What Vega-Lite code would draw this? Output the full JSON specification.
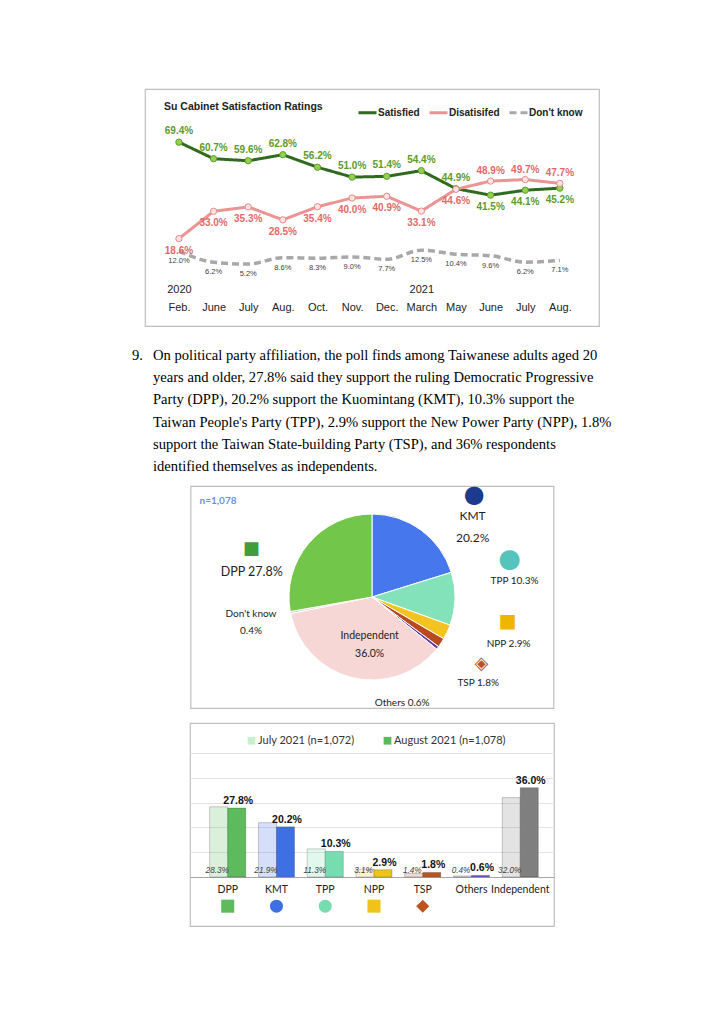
{
  "$schema": "https://vega.github.io/schema/vega-lite/v6.json",
  "background": "white",
  "padding": {"left": 132, "top": 88, "right": 0, "bottom": 0},
  "bounds": "flush",
  "center": true,
  "spacing": 15,
  "config": {"view": {"stroke": "#bfbfbf"}, "font": "Liberation Sans"},
  "resolve": {
    "scale": {"color": "independent", "fill": "independent", "stroke": "independent", "strokeDash": "independent", "fillOpacity": "independent", "shape": "independent", "theta": "independent"},
    "legend": {"color": "independent", "fill": "independent", "stroke": "independent", "strokeDash": "independent", "fillOpacity": "independent", "shape": "independent"}
  },
  "vconcat": [
    {
      "width": 454,
      "height": 237,
      "view": {"stroke": "#bfbfbf", "strokeWidth": 1.2},
      "title": {"text": "Su Cabinet Satisfaction Ratings", "anchor": "start", "frame": "group", "offset": -28, "baseline": "middle", "dx": 19, "fontSize": 10.5, "fontWeight": "bold", "color": "#222222", "font": "Liberation Sans"},
      "data": {"values": [
        {"i": 0, "period": "2020 Feb.", "series": "Satisfied", "value": 0.694},
        {"i": 1, "period": "2020 June", "series": "Satisfied", "value": 0.607},
        {"i": 2, "period": "2020 July", "series": "Satisfied", "value": 0.596},
        {"i": 3, "period": "2020 Aug.", "series": "Satisfied", "value": 0.628},
        {"i": 4, "period": "2020 Oct.", "series": "Satisfied", "value": 0.562},
        {"i": 5, "period": "2020 Nov.", "series": "Satisfied", "value": 0.510},
        {"i": 6, "period": "2020 Dec.", "series": "Satisfied", "value": 0.514},
        {"i": 7, "period": "2021 March", "series": "Satisfied", "value": 0.544},
        {"i": 8, "period": "2021 May", "series": "Satisfied", "value": 0.449},
        {"i": 9, "period": "2021 June", "series": "Satisfied", "value": 0.415},
        {"i": 10, "period": "2021 July", "series": "Satisfied", "value": 0.441},
        {"i": 11, "period": "2021 Aug.", "series": "Satisfied", "value": 0.452},
        {"i": 0, "period": "2020 Feb.", "series": "Disatisifed", "value": 0.186},
        {"i": 1, "period": "2020 June", "series": "Disatisifed", "value": 0.330},
        {"i": 2, "period": "2020 July", "series": "Disatisifed", "value": 0.353},
        {"i": 3, "period": "2020 Aug.", "series": "Disatisifed", "value": 0.285},
        {"i": 4, "period": "2020 Oct.", "series": "Disatisifed", "value": 0.354},
        {"i": 5, "period": "2020 Nov.", "series": "Disatisifed", "value": 0.400},
        {"i": 6, "period": "2020 Dec.", "series": "Disatisifed", "value": 0.409},
        {"i": 7, "period": "2021 March", "series": "Disatisifed", "value": 0.331},
        {"i": 8, "period": "2021 May", "series": "Disatisifed", "value": 0.446},
        {"i": 9, "period": "2021 June", "series": "Disatisifed", "value": 0.489},
        {"i": 10, "period": "2021 July", "series": "Disatisifed", "value": 0.497},
        {"i": 11, "period": "2021 Aug.", "series": "Disatisifed", "value": 0.477},
        {"i": 0, "period": "2020 Feb.", "series": "Don't know", "value": 0.120},
        {"i": 1, "period": "2020 June", "series": "Don't know", "value": 0.062},
        {"i": 2, "period": "2020 July", "series": "Don't know", "value": 0.052},
        {"i": 3, "period": "2020 Aug.", "series": "Don't know", "value": 0.086},
        {"i": 4, "period": "2020 Oct.", "series": "Don't know", "value": 0.083},
        {"i": 5, "period": "2020 Nov.", "series": "Don't know", "value": 0.090},
        {"i": 6, "period": "2020 Dec.", "series": "Don't know", "value": 0.077},
        {"i": 7, "period": "2021 March", "series": "Don't know", "value": 0.125},
        {"i": 8, "period": "2021 May", "series": "Don't know", "value": 0.104},
        {"i": 9, "period": "2021 June", "series": "Don't know", "value": 0.096},
        {"i": 10, "period": "2021 July", "series": "Don't know", "value": 0.062},
        {"i": 11, "period": "2021 Aug.", "series": "Don't know", "value": 0.071}
      ]},
      "encoding": {
        "x": {"field": "i", "type": "quantitative", "scale": {"domain": [-0.98, 12.13], "nice": false, "zero": false},
          "axis": {"values": [0, 1, 2, 3, 4, 5, 6, 7, 8, 9, 10, 11],
            "labelExpr": "[['2020','Feb.'],['','June'],['','July'],['','Aug.'],['','Oct.'],['','Nov.'],['','Dec.'],['2021','March'],['','May'],['','June'],['','July'],['','Aug.']][datum.value]",
            "orient": "bottom", "offset": -52, "domain": false, "ticks": false, "grid": false, "title": null,
            "labelFont": "Liberation Sans", "labelFontSize": 11, "labelColor": "#222222", "labelPadding": 9,
            "labelLineHeight": 18, "labelOverlap": false, "labelFlush": false, "labelBaseline": "top"}},
        "y": {"field": "value", "type": "quantitative", "scale": {"domain": [-0.274, 0.974], "nice": false, "zero": false}, "axis": null}
      },
      "layer": [
        {
          "data": {"values": [{"g": 0.2}, {"g": 0.4}, {"g": 0.6}]},
          "mark": {"type": "rule", "color": "#e8e8e8", "strokeWidth": 1},
          "encoding": {"x": {"datum": -0.5, "type": "quantitative"}, "x2": {"datum": 12.07}, "y": {"field": "g", "type": "quantitative"}}
        },
        {
          "data": {"values": [{"box": "plot"}]},
          "mark": {"type": "rect", "fill": "transparent", "stroke": "#d4d4d4", "strokeWidth": 1},
          "encoding": {"x": {"datum": -0.5, "type": "quantitative"}, "x2": {"datum": 12.07}, "y": {"datum": 0, "type": "quantitative"}, "y2": {"datum": 0.8}}
        },
        {
          "transform": [{"filter": {"field": "series", "equal": "Don't know"}}],
          "mark": {"type": "line", "interpolate": "monotone", "strokeWidth": 3.5},
          "encoding": {
            "color": {"field": "series", "type": "nominal", "scale": {"domain": ["Satisfied", "Disatisifed", "Don't know"], "range": ["#2f6a1f", "#ec9393", "#a8a8a8"]},
              "legend": {"title": null, "orient": "none", "legendX": 212, "legendY": 13, "direction": "horizontal", "symbolType": "stroke", "symbolSize": 324, "symbolStrokeWidth": 3, "labelFont": "Liberation Sans", "labelFontSize": 10, "labelFontWeight": "bold", "labelColor": "#222222", "columnPadding": 3, "labelOffset": 0}},
            "strokeDash": {"field": "series", "type": "nominal", "scale": {"domain": ["Satisfied", "Disatisifed", "Don't know"], "range": [[1, 0], [1, 0], [7, 4]]},
              "legend": {"title": null, "orient": "none", "legendX": 212, "legendY": 13, "direction": "horizontal", "symbolType": "stroke", "symbolSize": 324, "symbolStrokeWidth": 3, "labelFont": "Liberation Sans", "labelFontSize": 10, "labelFontWeight": "bold", "labelColor": "#222222", "columnPadding": 3, "labelOffset": 0}}
          }
        },
        {
          "transform": [{"filter": {"field": "series", "oneOf": ["Satisfied", "Disatisifed"]}}],
          "mark": {"type": "line", "strokeWidth": 3},
          "encoding": {
            "color": {"field": "series", "type": "nominal"},
            "strokeDash": {"field": "series", "type": "nominal"}
          }
        },
        {
          "transform": [{"filter": {"field": "series", "oneOf": ["Satisfied", "Disatisifed"]}}],
          "mark": {"type": "point", "filled": true, "size": 40, "strokeWidth": 1, "opacity": 1},
          "encoding": {
            "fill": {"field": "series", "type": "nominal", "scale": {"domain": ["Satisfied", "Disatisifed"], "range": ["#93d04f", "#fde3e3"]}, "legend": null},
            "stroke": {"field": "series", "type": "nominal", "scale": {"domain": ["Satisfied", "Disatisifed"], "range": ["#5f9e2c", "#e58a8a"]}, "legend": null}
          }
        },
        {
          "transform": [{"filter": {"and": [{"field": "series", "equal": "Satisfied"}, {"field": "i", "lte": 8}]}}],
          "mark": {"type": "text", "dy": -11, "font": "Liberation Sans", "fontSize": 10, "fontWeight": "bold", "color": "#5c9a2c"},
          "encoding": {"text": {"field": "value", "type": "quantitative", "format": ".1%"}}
        },
        {
          "transform": [{"filter": {"and": [{"field": "series", "equal": "Satisfied"}, {"field": "i", "gte": 9}]}}],
          "mark": {"type": "text", "dy": 12, "font": "Liberation Sans", "fontSize": 10, "fontWeight": "bold", "color": "#5c9a2c"},
          "encoding": {"text": {"field": "value", "type": "quantitative", "format": ".1%"}}
        },
        {
          "transform": [{"filter": {"and": [{"field": "series", "equal": "Disatisifed"}, {"field": "i", "lte": 8}]}}],
          "mark": {"type": "text", "dy": 12, "font": "Liberation Sans", "fontSize": 10, "fontWeight": "bold", "color": "#e06a6a"},
          "encoding": {"text": {"field": "value", "type": "quantitative", "format": ".1%"}}
        },
        {
          "transform": [{"filter": {"and": [{"field": "series", "equal": "Disatisifed"}, {"field": "i", "gte": 9}]}}],
          "mark": {"type": "text", "dy": -10, "font": "Liberation Sans", "fontSize": 10, "fontWeight": "bold", "color": "#e06a6a"},
          "encoding": {"text": {"field": "value", "type": "quantitative", "format": ".1%"}}
        },
        {
          "transform": [{"filter": {"field": "series", "equal": "Don't know"}}],
          "mark": {"type": "text", "dy": 10, "font": "Liberation Sans", "fontSize": 7.5, "color": "#404040"},
          "encoding": {"text": {"field": "value", "type": "quantitative", "format": ".1%"}}
        }
      ]
    },
    {
      "width": 480,
      "height": 130,
      "view": {"stroke": null},
      "data": {"values": [
        {"line": 1, "text": "On political party affiliation, the poll finds among Taiwanese adults aged 20"},
        {"line": 2, "text": "years and older, 27.8% said they support the ruling Democratic Progressive"},
        {"line": 3, "text": "Party (DPP), 20.2% support the Kuomintang (KMT), 10.3% support the"},
        {"line": 4, "text": "Taiwan People's Party (TPP), 2.9% support the New Power Party (NPP), 1.8%"},
        {"line": 5, "text": "support the Taiwan State-building Party (TSP), and 36% respondents"},
        {"line": 6, "text": "identified themselves as independents."}
      ]},
      "encoding": {
        "y": {"field": "line", "type": "ordinal", "scale": {"type": "point", "padding": 0.428, "align": 0.79}, "axis": null},
        "x": {"datum": 0, "type": "quantitative", "scale": {"domain": [0, 1]}, "axis": null}
      },
      "layer": [
        {
          "mark": {"type": "text", "align": "left", "baseline": "middle", "dx": 21, "font": "Liberation Serif", "fontSize": 14.6, "color": "#000000"},
          "encoding": {"text": {"field": "text", "type": "nominal"}}
        },
        {
          "transform": [{"filter": {"field": "line", "equal": 1}}],
          "mark": {"type": "text", "text": "9.", "align": "left", "baseline": "middle", "font": "Liberation Serif", "fontSize": 14.6, "color": "#000000"},
          "encoding": {}
        }
      ]
    },
    {
      "width": 363,
      "height": 222,
      "view": {"stroke": "#bfbfbf", "strokeWidth": 1.2},
      "title": {"text": "n=1,078", "anchor": "start", "frame": "group", "offset": -28, "baseline": "middle", "dx": 9, "fontSize": 10, "fontWeight": "bold", "color": "#6d8fe0", "font": "Lato"},
      "data": {"values": [
        {"party": "KMT", "share": 20.2, "order": 1, "label": "KMT\n20.2%"},
        {"party": "TPP", "share": 10.3, "order": 2, "label": "TPP 10.3%"},
        {"party": "NPP", "share": 2.9, "order": 3, "label": "NPP 2.9%"},
        {"party": "TSP", "share": 1.8, "order": 4, "label": "TSP 1.8%"},
        {"party": "Others", "share": 0.6, "order": 5, "label": "Others 0.6%"},
        {"party": "Independent", "share": 36.0, "order": 6, "label": "Independent\n36.0%"},
        {"party": "Don't know", "share": 0.4, "order": 7, "label": "Don't know\n0.4%"},
        {"party": "DPP", "share": 27.8, "order": 8, "label": "DPP 27.8%"}
      ]},
      "encoding": {
        "theta": {"field": "share", "type": "quantitative", "stack": true},
        "order": {"field": "order", "type": "quantitative"}
      },
      "layer": [
        {
          "mark": {"type": "arc", "outerRadius": 83, "stroke": "white", "strokeWidth": 1},
          "encoding": {"color": {"field": "party", "type": "nominal",
            "scale": {"domain": ["KMT", "TPP", "NPP", "TSP", "Others", "Independent", "Don't know", "DPP"], "range": ["#4777ec", "#84e2bb", "#f3c41f", "#b94a1f", "#5d3ba3", "#f7d6d6", "#d0d0d0", "#72c64a"]},
            "legend": null}}
        },
        {
          "mark": {"type": "text", "radius": 122.5, "dx": 28, "dy": 18, "font": "Lato", "fontSize": 12, "color": "#222222", "lineBreak": "\n", "lineHeight": 22},
          "encoding": {"text": {"condition": {"test": "datum.party === 'KMT'", "field": "label"}, "value": ""}}
        },
        {
          "mark": {"type": "text", "radius": 100, "dx": 42.5, "dy": -18, "font": "Lato", "fontSize": 10, "color": "#222222"},
          "encoding": {"text": {"condition": {"test": "datum.party === 'TPP'", "field": "label"}, "value": ""}}
        },
        {
          "mark": {"type": "text", "radius": 100, "dx": 46, "dy": 5, "font": "Lato", "fontSize": 10, "color": "#222222"},
          "encoding": {"text": {"condition": {"test": "datum.party === 'NPP'", "field": "label"}, "value": ""}}
        },
        {
          "mark": {"type": "text", "radius": 136.9, "dx": -8, "dy": 10, "font": "Lato", "fontSize": 10, "color": "#222222"},
          "encoding": {"text": {"condition": {"test": "datum.party === 'TSP'", "field": "label"}, "value": ""}}
        },
        {
          "mark": {"type": "text", "radius": 110.3, "dx": -57, "dy": 38, "font": "Lato", "fontSize": 10, "color": "#222222"},
          "encoding": {"text": {"condition": {"test": "datum.party === 'Others'", "field": "label"}, "value": ""}}
        },
        {
          "mark": {"type": "text", "radius": 48, "dx": 9, "dy": -8, "font": "Lato", "fontSize": 10.5, "color": "#222222", "lineBreak": "\n", "lineHeight": 18},
          "encoding": {"text": {"condition": {"test": "datum.party === 'Independent'", "field": "label"}, "value": ""}}
        },
        {
          "mark": {"type": "text", "radius": 123.2, "dx": 0, "dy": -6.5, "font": "Lato", "fontSize": 10, "color": "#222222", "lineBreak": "\n", "lineHeight": 17},
          "encoding": {"text": {"condition": {"test": "datum.party === \"Don't know\"", "field": "label"}, "value": ""}}
        },
        {
          "mark": {"type": "text", "radius": 123, "dx": -26, "dy": 54, "font": "Lato", "fontSize": 12.5, "color": "#222222"},
          "encoding": {"text": {"condition": {"test": "datum.party === 'DPP'", "field": "label"}, "value": ""}}
        },
        {
          "mark": {"type": "text", "radius": 100, "dx": 43, "dy": -21.5, "font": "DejaVu Sans", "fontSize": 24, "color": "#1d3b8e"},
          "encoding": {"text": {"condition": {"test": "datum.party === 'KMT'", "value": "●"}, "value": ""}}
        },
        {
          "mark": {"type": "text", "radius": 60, "dx": 77.5, "dy": -39.4, "font": "DejaVu Sans", "fontSize": 26, "color": "#55c4bd"},
          "encoding": {"text": {"condition": {"test": "datum.party === 'TPP'", "value": "●"}, "value": ""}}
        },
        {
          "mark": {"type": "text", "radius": 100, "dx": 45, "dy": -18, "font": "DejaVu Sans", "fontSize": 19, "color": "#efb500"},
          "encoding": {"text": {"condition": {"test": "datum.party === 'NPP'", "value": "■"}, "value": ""}}
        },
        {
          "mark": {"type": "text", "radius": 100, "dx": 26, "dy": 12, "font": "DejaVu Sans", "fontSize": 18, "color": "#b5532b"},
          "encoding": {"text": {"condition": {"test": "datum.party === 'TSP'", "value": "◈"}, "value": ""}}
        },
        {
          "mark": {"type": "text", "radius": 100, "dx": -44, "dy": 16, "font": "DejaVu Sans", "fontSize": 18, "color": "#3f9e3a"},
          "encoding": {"text": {"condition": {"test": "datum.party === 'DPP'", "value": "■"}, "value": ""}}
        }
      ]
    },
    {
      "width": 364,
      "height": 203,
      "view": {"stroke": "#bfbfbf", "strokeWidth": 1.2},
      "data": {"values": [
        {"party": "DPP", "month": "July 2021 (n=1,072)", "value": 0.283},
        {"party": "DPP", "month": "August 2021 (n=1,078)", "value": 0.278},
        {"party": "KMT", "month": "July 2021 (n=1,072)", "value": 0.219},
        {"party": "KMT", "month": "August 2021 (n=1,078)", "value": 0.202},
        {"party": "TPP", "month": "July 2021 (n=1,072)", "value": 0.113},
        {"party": "TPP", "month": "August 2021 (n=1,078)", "value": 0.103},
        {"party": "NPP", "month": "July 2021 (n=1,072)", "value": 0.031},
        {"party": "NPP", "month": "August 2021 (n=1,078)", "value": 0.029},
        {"party": "TSP", "month": "July 2021 (n=1,072)", "value": 0.014},
        {"party": "TSP", "month": "August 2021 (n=1,078)", "value": 0.018},
        {"party": "Others", "month": "July 2021 (n=1,072)", "value": 0.004},
        {"party": "Others", "month": "August 2021 (n=1,078)", "value": 0.006},
        {"party": "Independent", "month": "July 2021 (n=1,072)", "value": 0.320},
        {"party": "Independent", "month": "August 2021 (n=1,078)", "value": 0.360}
      ]},
      "encoding": {
        "x": {"field": "party", "type": "nominal", "sort": ["DPP", "KMT", "TPP", "NPP", "TSP", "Others", "Independent"],
          "scale": {"paddingInner": 0.26, "paddingOuter": 0.363, "align": 0.556},
          "axis": {"title": null, "orient": "bottom", "offset": -49, "domain": false, "ticks": false, "labelAngle": 0, "labelFont": "Lato", "labelFontSize": 10.5, "labelColor": "#222222", "labelPadding": 7}},
        "y": {"field": "value", "type": "quantitative", "scale": {"domain": [-0.198, 0.621], "nice": false, "zero": false},
          "axis": {"title": null, "labels": false, "ticks": false, "domain": false, "grid": true, "values": [0, 0.1, 0.2, 0.3, 0.4, 0.5],
            "gridColor": {"condition": {"test": "datum.value === 0", "value": "#a6a6a6"}, "value": "#e3e3e3"}}}
      },
      "layer": [
        {
          "mark": {"type": "bar", "opacity": 0},
          "encoding": {
            "xOffset": {"field": "month", "type": "nominal", "sort": ["July 2021 (n=1,072)", "August 2021 (n=1,078)"], "scale": {"paddingInner": 0, "paddingOuter": 0}},
            "y2": {"datum": 0},
            "color": {"field": "month", "type": "nominal", "scale": {"domain": ["July 2021 (n=1,072)", "August 2021 (n=1,078)"], "range": ["#c9efcd", "#5cb85c"]},
              "legend": {"title": null, "orient": "none", "legendX": 56, "legendY": 12, "direction": "horizontal", "symbolType": "square", "symbolOpacity": 1, "symbolStrokeWidth": 0, "symbolSize": 60, "labelFont": "Lato", "labelFontSize": 11, "labelColor": "#333333", "columnPadding": 27, "labelOffset": 1}}
          }
        },
        {
          "mark": {"type": "bar", "stroke": "#000000", "strokeOpacity": 0.2, "strokeWidth": 1},
          "encoding": {
            "xOffset": {"field": "month", "type": "nominal", "sort": ["July 2021 (n=1,072)", "August 2021 (n=1,078)"]},
            "y2": {"datum": 0},
            "fill": {"field": "party", "type": "nominal", "scale": {"domain": ["DPP", "KMT", "TPP", "NPP", "TSP", "Others", "Independent"], "range": ["#5dbb5d", "#3e6fe5", "#77ddb0", "#f0c31b", "#bf531d", "#6d4fc0", "#7f7f7f"]}, "legend": null},
            "fillOpacity": {"field": "month", "type": "ordinal", "scale": {"domain": ["July 2021 (n=1,072)", "August 2021 (n=1,078)"], "range": [0.22, 1]}, "legend": null}
          }
        },
        {
          "transform": [{"filter": {"field": "month", "equal": "August 2021 (n=1,078)"}}],
          "mark": {"type": "text", "baseline": "bottom", "dy": -2, "dx": 1.5, "font": "Liberation Sans", "fontWeight": "bold", "fontSize": 10.5, "color": "#111111"},
          "encoding": {
            "xOffset": {"field": "month", "type": "nominal", "sort": ["July 2021 (n=1,072)", "August 2021 (n=1,078)"]},
            "text": {"field": "value", "type": "quantitative", "format": ".1%"}}
        },
        {
          "transform": [{"filter": {"field": "month", "equal": "July 2021 (n=1,072)"}}],
          "mark": {"type": "text", "baseline": "bottom", "dy": -2, "dx": -1.5, "font": "Liberation Sans", "fontStyle": "italic", "fontSize": 8.2, "color": "#404040"},
          "encoding": {
            "xOffset": {"field": "month", "type": "nominal", "sort": ["July 2021 (n=1,072)", "August 2021 (n=1,078)"]},
            "y": {"datum": 0, "type": "quantitative"},
            "text": {"field": "value", "type": "quantitative", "format": ".1%"}}
        },
        {
          "transform": [{"filter": {"and": [{"field": "month", "equal": "August 2021 (n=1,078)"}, {"field": "party", "oneOf": ["DPP", "KMT", "TPP", "NPP", "TSP"]}]}}],
          "mark": {"type": "point", "filled": true, "size": 170, "opacity": 1},
          "encoding": {
            "y": {"datum": -0.118, "type": "quantitative"},
            "fill": {"field": "party", "type": "nominal", "legend": null},
            "shape": {"field": "party", "type": "nominal", "scale": {"domain": ["DPP", "KMT", "TPP", "NPP", "TSP"], "range": ["square", "circle", "circle", "square", "diamond"]}, "legend": null}
          }
        }
      ]
    }
  ]
}
